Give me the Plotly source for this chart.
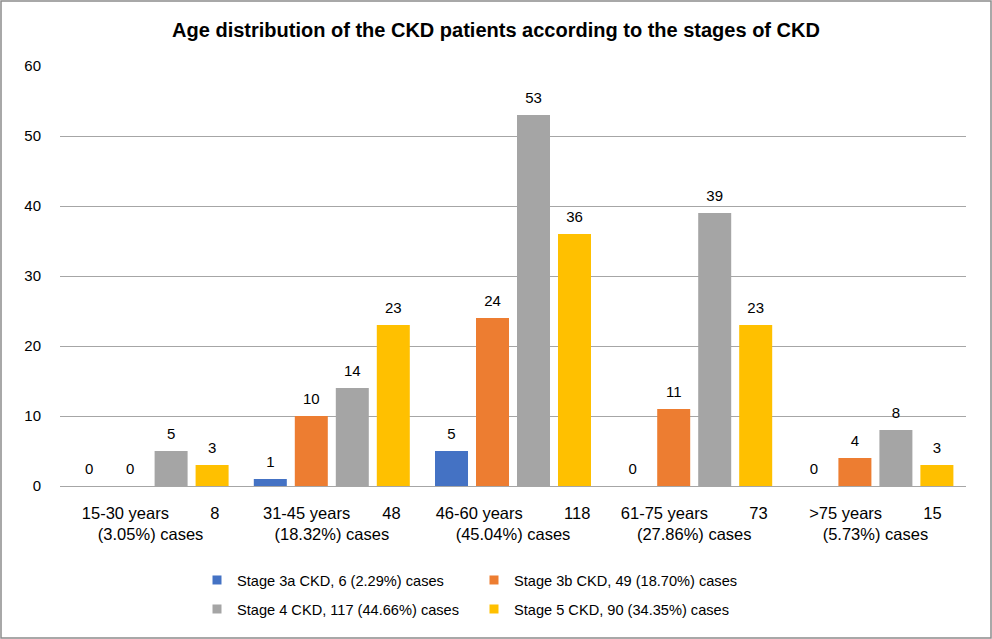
import plotly.graph_objects as go

categories = ["15-30 years", "31-45 years", "46-60 years", "61-75 years", ">75 years"]
totals = [8, 48, 118, 73, 15]
shares = ["(3.05%) cases", "(18.32%) cases", "(45.04%) cases", "(27.86%) cases", "(5.73%) cases"]
gaps = [9, 7, 9, 9, 9]

series_names = [
    "Stage 3a CKD, 6 (2.29%) cases",
    "Stage 3b CKD, 49 (18.70%) cases",
    "Stage 4 CKD, 117 (44.66%) cases",
    "Stage 5 CKD, 90 (34.35%) cases",
]
stage3a = [0, 1, 5, 0, 0]
stage3b = [0, 10, 24, 11, 4]
stage4 = [5, 14, 53, 39, 8]
stage5 = [3, 23, 36, 23, 3]
series_values = [stage3a, stage3b, stage4, stage5]
colors = ["#4472C4", "#ED7D31", "#A5A5A5", "#FFC000"]

ticktext = [
    f"{c}{chr(160) * g}{t}<br>{s}" for c, t, s, g in zip(categories, totals, shares, gaps)
]

W, H = 992, 639
ml, mr, mt, mb = 60, 26, 66, 153
pw, ph = W - ml - mr, H - mt - mb

fig = go.Figure()
for i, (name, vals, col) in enumerate(zip(series_names, series_values, colors)):
    fig.add_trace(go.Bar(
        x=categories, y=vals, name=name, marker_color=col, marker_line_width=0,
        showlegend=False, hoverinfo="skip", offsetgroup=f"g{i}",
    ))
for i, (name, vals, col) in enumerate(zip(series_names, series_values, colors)):
    fig.add_trace(go.Scatter(
        x=categories, y=vals, mode="markers+text", text=[str(v) for v in vals],
        textposition="top center", textfont=dict(size=15, color="#000000"),
        marker=dict(size=12, opacity=0, color=col), showlegend=False,
        cliponaxis=False, hoverinfo="skip", offsetgroup=f"g{i}",
    ))

legend_names = ["legend", "legend2", "legend3", "legend4"]
for i, (name, col) in enumerate(zip(series_names, colors)):
    fig.add_trace(go.Scatter(
        x=[None], y=[None], mode="markers", name=name,
        marker=dict(symbol="square", size=9, color=col),
        legend=legend_names[i],
    ))

leg_common = dict(orientation="h", xanchor="left", yanchor="middle", itemwidth=30,
                  font=dict(size=14.6, color="#000000"), bgcolor="rgba(0,0,0,0)")
col_left = [197, 474]
row_y = [580, 609]
legend_layout = {}
for i, ln in enumerate(legend_names):
    legend_layout[ln] = dict(x=(col_left[i % 2] - ml) / pw,
                             y=(H - mb - row_y[i // 2]) / ph, **leg_common)

fig.update_layout(
    width=W, height=H,
    margin=dict(l=ml, r=mr, t=mt, b=mb),
    paper_bgcolor="white", plot_bgcolor="white",
    font=dict(family="Liberation Sans, Arial, sans-serif", size=15, color="#000000"),
    title=dict(text="<b>Age distribution of the CKD patients according to the stages of CKD</b>",
               x=0.5, xanchor="center", y=1 - 30 / H, yanchor="middle",
               font=dict(size=20, color="#000000")),
    barmode="group", bargap=0.095, bargroupgap=0.195,
    scattermode="group", scattergap=0.095,
    showlegend=True,
    **legend_layout,
)
fig.update_xaxes(
    tickmode="array", tickvals=categories, ticktext=ticktext,
    showline=False, showgrid=False, ticks="outside", ticklen=12,
    tickcolor="rgba(0,0,0,0)", tickfont=dict(size=16.5, color="#000000"),
)
fig.update_yaxes(
    range=[0, 60], dtick=10, showgrid=True, gridcolor="#A6A6A6", gridwidth=1,
    zeroline=True, zerolinecolor="#A6A6A6", zerolinewidth=1,
    ticks="outside", ticklen=15, tickcolor="rgba(0,0,0,0)",
    tickfont=dict(size=15, color="#000000"),
)
fig.add_shape(type="rect", xref="paper", yref="paper",
              x0=-(ml - 1) / pw, x1=1 + (mr - 1) / pw,
              y0=-(mb - 1) / ph, y1=1 + (mt - 1) / ph,
              line=dict(color="#8C8C8C", width=1.5), fillcolor="rgba(0,0,0,0)", layer="below")

fig.write_html("out.html", config={"displayModeBar": False},
               post_script="document.body.style.margin='0px';")
